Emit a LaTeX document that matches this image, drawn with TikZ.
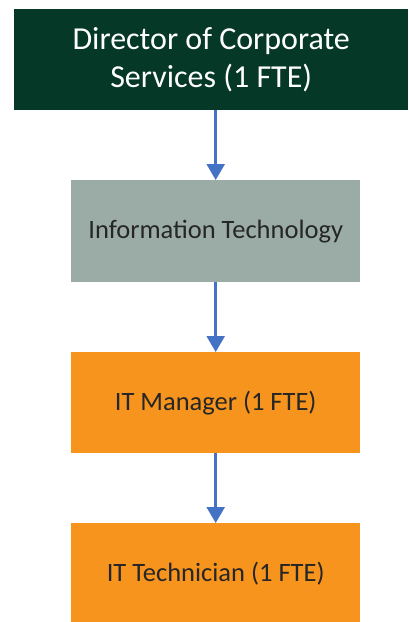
\documentclass[tikz,border=0pt]{standalone}
\usepackage{fontspec}
\setmainfont{Carlito}
\usetikzlibrary{arrows.meta}
\definecolor{dgreen}{HTML}{053826}
\definecolor{sage}{HTML}{9AACA5}
\definecolor{orng}{HTML}{F7941E}
\definecolor{ablue}{HTML}{4472C4}
\tikzset{
  box/.style={rectangle, inner sep=0pt, align=center, anchor=north west},
  conn/.style={draw=ablue, line width=2.5pt, -{Triangle[width=18pt,length=16pt]}},
  small/.style={font=\fontsize{26.5}{32}\selectfont}
}
\begin{document}
\begin{tikzpicture}[x=1pt,y=1pt]
\useasboundingbox (0,0) rectangle (408,-622);
\node[box, fill=dgreen, text=white, minimum width=394pt, minimum height=101pt, font=\fontsize{32}{38}\selectfont] (dir) at (14,-9) {Director of Corporate\\Services (1 FTE)};
\node[box, fill=sage, text=black!85, minimum width=289pt, minimum height=102pt, small] (it) at (71,-180) {Information Technology};
\node[box, fill=orng, text=black!85, minimum width=289pt, minimum height=101pt, small] (mgr) at (71,-352) {IT Manager (1 FTE)};
\node[box, fill=orng, text=black!85, minimum width=289pt, minimum height=101pt, small] (tech) at (71,-523) {IT Technician (1 FTE)};
\draw[conn] (dir.south -| it.north) -- (it.north);
\draw[conn] (it.south) -- (mgr.north);
\draw[conn] (mgr.south) -- (tech.north);
\end{tikzpicture}
\end{document}
